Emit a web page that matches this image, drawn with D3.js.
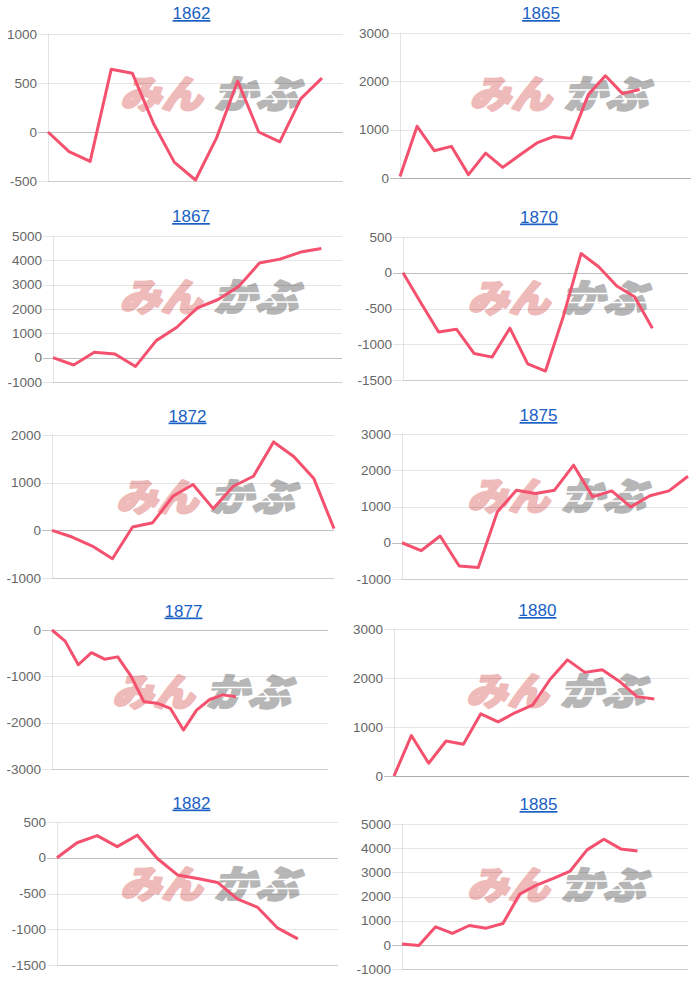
<!DOCTYPE html>
<html lang="ja">
<head>
  <meta charset="UTF-8">
  <script src="https://d3js.org/d3.v7.min.js"></script>
  <title>1862 - 1885</title>
  <style>
    body { margin: 0; background: #fff; }
    .ylab {
      font-family: "Liberation Sans", Arial, sans-serif;
      font-size: 13.5px;
      fill: #666;
    }
    .title {
      font-family: "Liberation Sans", Arial, sans-serif;
      font-size: 17px;
      fill: #1a5fc4;
      text-decoration: underline;
    }
    .wm {
      font-family: "Noto Sans CJK JP", sans-serif;
      font-weight: 900;
      font-size: 38px;
      stroke-width: 2.5px;
      stroke-linejoin: round;
    }
    .grid { stroke: rgba(0,0,0,0.1); shape-rendering: crispEdges; }
    .zero { stroke: rgba(0,0,0,0.25); shape-rendering: crispEdges; }
  </style>
</head>
<body>
<div id="chart"></div>
<script>
// chart titles
const years = ["1862", "1865", "1867", "1870", "1872", "1875", "1877", "1880", "1882", "1885"];

// series values (null = empty category at the end)
const values1862 = [0, -200, -300, 640, 600, 90, -310, -490, -60, 520, 0, -100, 340, 550, null];
const values1865 = [30, 1070, 565, 655, 70, 515, 220, 475, 725, 860, 820, 1725, 2115, 1745, 1830, null, null, null];
const values1867 = [0, -300, 220, 150, -360, 700, 1250, 2050, 2390, 2930, 3890, 4050, 4340, 4490, null];
const values1870 = [0, -420, -830, -790, -1130, -1180, -775, -1275, -1375, -610, 270, 80, -185, -335, -775, null, null];
const values1872 = [0, -140, -330, -595, 70, 160, 715, 960, 455, 925, 1135, 1855, 1550, 1085, 35];
const values1875 = [0, -220, 185, -640, -680, 850, 1450, 1360, 1450, 2140, 1265, 1430, 990, 1295, 1430, 1835];
const values1877 = [0, -240, -750, -490, -630, -580, -990, -1550, -1580, -1690, -2160, -1730, -1500, -1400, -1440,
                    null, null, null, null, null, null, null];
const values1880 = [0, 825, 260, 715, 650, 1270, 1105, 1295, 1450, 1975, 2370, 2115, 2170, 1930, 1620, 1570, null, null];
const values1882 = [0, 210, 310, 155, 315, -10, -240, -290, -345, -580, -695, -985, -1135, null, null];
const values1885 = [30, -30, 745, 470, 800, 690, 885, 2100, 2475, 2750, 3055, 3930, 4370, 3970, 3885, null, null, null];

// y tick labels
const ticks1862 = [-500, 0, 500, 1000];
const ticks1865 = [0, 1000, 2000, 3000];
const ticks1867 = [-1000, 0, 1000, 2000, 3000, 4000, 5000];
const ticks1870 = [-1500, -1000, -500, 0, 500];
const ticks1872 = [-1000, 0, 1000, 2000];
const ticks1875 = [-1000, 0, 1000, 2000, 3000];
const ticks1877 = [-3000, -2000, -1000, 0];
const ticks1880 = [0, 1000, 2000, 3000];
const ticks1882 = [-1500, -1000, -500, 0, 500];
const ticks1885 = [-1000, 0, 1000, 2000, 3000, 4000, 5000];

const seriesList = [values1862, values1865, values1867, values1870, values1872,
                    values1875, values1877, values1880, values1882, values1885];
const tickList = [ticks1862, ticks1865, ticks1867, ticks1870, ticks1872,
                  ticks1875, ticks1877, ticks1880, ticks1882, ticks1885];

// plot frames of each small chart (page coords)
const frames = [
  { left: 48,  right: 343, top: 34,  bottom: 181, tx: 191.5, ty: 19 },
  { left: 400, right: 691, top: 33,  bottom: 178, tx: 541,   ty: 19 },
  { left: 53,  right: 342, top: 236, bottom: 382, tx: 191,   ty: 222 },
  { left: 403, right: 688, top: 237, bottom: 380, tx: 539,   ty: 222.5 },
  { left: 52,  right: 334, top: 435, bottom: 578, tx: 187.5, ty: 421.5 },
  { left: 402, right: 688, top: 434, bottom: 579, tx: 538.5, ty: 421 },
  { left: 52,  right: 328, top: 630, bottom: 769, tx: 183.5, ty: 616.5 },
  { left: 394, right: 689, top: 629, bottom: 776, tx: 537.5, ty: 616 },
  { left: 57,  right: 338, top: 822, bottom: 965, tx: 191.5, ty: 808.5 },
  { left: 402, right: 688, top: 824, bottom: 969, tx: 538.5, ty: 810 }
];

const svg = d3.select("#chart")
  .append("svg")
  .attr("width", 700)
  .attr("height", 984);

seriesList.forEach((values, i) => {
  const f = frames[i];
  const tks = tickList[i];
  const g = svg.append("g");

  const x = d3.scalePoint()
    .domain(d3.range(values.length))
    .range([f.left, f.right]);
  const y = d3.scaleLinear()
    .domain(d3.extent(tks))
    .range([f.bottom, f.top]);

  // title
  g.append("text")
    .attr("class", "title")
    .attr("x", f.tx)
    .attr("y", f.ty)
    .attr("text-anchor", "middle")
    .text(years[i]);

  // watermark (background logo)
  const wm = g.append("g")
    .attr("transform", `translate(${f.tx + 18},${f.ty + 76})`);
  wm.append("text")
    .attr("class", "wm")
    .attr("x", -86).attr("y", 13)
    .attr("textLength", 82)
    .attr("lengthAdjust", "spacingAndGlyphs")
    .attr("transform", "skewX(-14)")
    .style("fill", "#efbaba")
    .style("stroke", "#efbaba")
    .text("みん");
  wm.append("text")
    .attr("class", "wm")
    .attr("x", 8).attr("y", 13)
    .attr("textLength", 84)
    .attr("lengthAdjust", "spacingAndGlyphs")
    .attr("transform", "skewX(-14)")
    .style("fill", "#b6b6b6")
    .style("stroke", "#b6b6b6")
    .text("かぶ");
  [-5, 4].forEach(dy => {
    wm.append("line")
      .attr("x1", 2).attr("x2", 96)
      .attr("y1", dy).attr("y2", dy)
      .attr("stroke", "#fff")
      .attr("stroke-width", 1.5);
  });

  // grid lines + tick marks
  g.selectAll(".gl")
    .data(tks)
    .enter()
    .append("line")
    .attr("class", d => d === 0 ? "zero" : "grid")
    .attr("x1", f.left - 10)
    .attr("x2", f.right)
    .attr("y1", d => Math.round(y(d)) + 0.5)
    .attr("y2", d => Math.round(y(d)) + 0.5);

  // bottom border (x axis)
  g.append("line")
    .attr("class", "grid")
    .attr("x1", f.left).attr("x2", f.right)
    .attr("y1", Math.round(f.bottom) + 0.5)
    .attr("y2", Math.round(f.bottom) + 0.5);

  // left border (y axis)
  g.append("line")
    .attr("class", "grid")
    .attr("x1", Math.round(f.left) + 0.5).attr("x2", Math.round(f.left) + 0.5)
    .attr("y1", f.top).attr("y2", f.bottom);

  // y labels
  g.selectAll(".ylab")
    .data(tks)
    .enter()
    .append("text")
    .attr("class", "ylab")
    .attr("x", f.left - 11)
    .attr("y", d => y(d))
    .attr("dy", "0.35em")
    .attr("text-anchor", "end")
    .text(d => d);

  // line
  const line = d3.line()
    .defined(d => d != null)
    .x((d, j) => x(j))
    .y(d => y(d));

  g.append("path")
    .datum(values)
    .attr("d", line)
    .attr("fill", "none")
    .attr("stroke", "#f4516e")
    .attr("stroke-width", 3)
    .attr("stroke-linejoin", "round");
});
</script>
</body>
</html>
